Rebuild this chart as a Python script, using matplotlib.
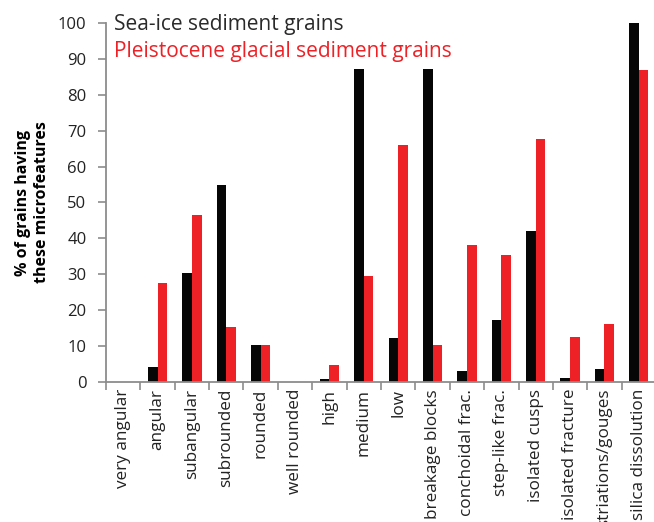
import matplotlib
matplotlib.use("Agg")
import matplotlib.pyplot as plt
import numpy as np

categories = ["very angular", "angular", "subangular", "subrounded", "rounded",
              "well rounded", "high", "medium", "low", "breakage blocks",
              "conchoidal frac.", "step-like frac.", "isolated cusps",
              "isolated fracture", "striations/gouges", "silica dissolution"]
sea_ice = [0, 4.3, 30.4, 55.0, 10.2, 0, 0.8, 87.2, 12.2, 87.2,
           3.2, 17.4, 42.1, 1.1, 3.5, 100]
pleistocene = [0, 27.6, 46.6, 15.2, 10.4, 0, 4.7, 29.6, 65.9, 10.4,
               38.2, 35.3, 67.8, 12.4, 16.2, 87.0]
yticks = list(range(0, 101, 10))

plt.rcParams["font.family"] = ["Open Sans", "DejaVu Sans"]

W, H = 654, 522
fig = plt.figure(figsize=(W / 100, H / 100), dpi=100)
ax = fig.add_axes([106 / W, 140 / H, 550 / W, 359 / H])

x = np.arange(len(categories))
bw = 0.28
black = "#060606"
red = "#ed2126"
ax.bar(x - bw / 2, sea_ice, bw, color=black, linewidth=0)
ax.bar(x + bw / 2, pleistocene, bw, color=red, linewidth=0)

ax.set_xlim(-0.5, len(categories) - 0.5)
ax.set_ylim(0, 100)
ax.set_yticks(yticks)
ax.set_yticklabels([str(v) for v in yticks], fontsize=12, color="#222222")

# category boundaries carry the tick marks; labels sit at bar-pair centres
ax.set_xticks(np.arange(len(categories) + 1) - 0.5)
ax.set_xticklabels([])
ax.set_xticks(x, minor=True)
ax.set_xticklabels(categories, minor=True, rotation=90, fontsize=12.3,
                   color="#222222", va="top", ha="center")
ax.tick_params(axis="x", which="minor", length=0, pad=5)
ax.tick_params(axis="x", which="major", length=6, width=1.2, color="#8c8c8c",
               direction="out")
ax.tick_params(axis="y", length=6, width=1.2, color="#8c8c8c", pad=8)

for side in ("top", "right"):
    ax.spines[side].set_visible(False)
for side in ("left", "bottom"):
    ax.spines[side].set_color("#8c8c8c")
    ax.spines[side].set_linewidth(1.3)

ax.set_ylabel("% of grains having\nthese microfeatures", fontsize=11.5,
              fontweight="bold", linespacing=1.25, labelpad=6)

fig.text(114 / W, 1 - 30 / H, "Sea-ice sediment grains", fontsize=15,
         color="#2a2a2a", va="baseline", ha="left")
fig.text(114 / W, 1 - 57 / H, "Pleistocene glacial sediment grains",
         fontsize=15, color=red, va="baseline", ha="left")

fig.savefig("out.png", dpi=100)
